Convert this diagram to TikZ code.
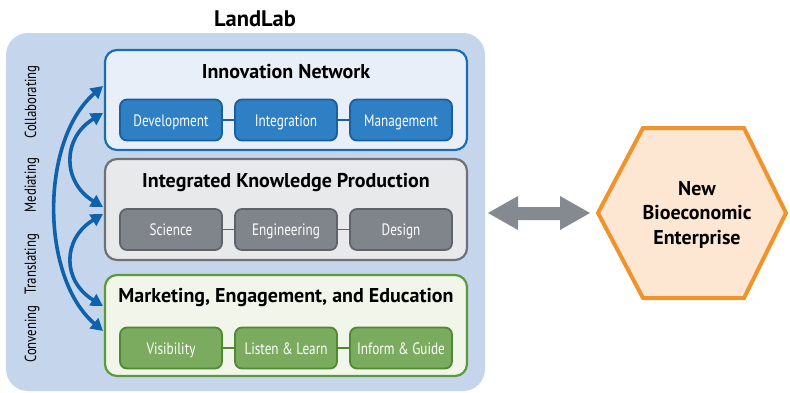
\documentclass[tikz,border=0pt]{standalone}
\usepackage{fontspec}
\setmainfont{PT Sans}
\newfontfamily\condfont[FakeStretch=0.8]{PT Sans}
\usetikzlibrary{arrows.meta}
\definecolor{llbg}{HTML}{C5D6EC}
\definecolor{inborder}{HTML}{1A6CB3}
\definecolor{infill}{HTML}{E9EFF8}
\definecolor{insub}{HTML}{2F7FC4}
\definecolor{insubb}{HTML}{1A5F9E}
\definecolor{ikborder}{HTML}{6D7278}
\definecolor{ikfill}{HTML}{E8E9EB}
\definecolor{iksub}{HTML}{80858B}
\definecolor{iksubb}{HTML}{5F646A}
\definecolor{meborder}{HTML}{5A9A3C}
\definecolor{mefill}{HTML}{F2F5E9}
\definecolor{mesub}{HTML}{7AAB5F}
\definecolor{mesubb}{HTML}{4F8A33}
\definecolor{arrowblue}{HTML}{0E62AD}
\definecolor{grayarrow}{HTML}{858A90}
\definecolor{hexborder}{HTML}{F0932B}
\definecolor{hexfill}{HTML}{FDE7D3}
\begin{document}
\begin{tikzpicture}[x=1pt,y=-1pt,
  bigbox/.style={rounded corners=12pt, line width=2.2pt, minimum width=362pt, minimum height=100pt, inner sep=0pt},
  subbox/.style={rounded corners=7pt, line width=1.8pt, minimum width=102pt, minimum height=41pt, inner sep=0pt, text height=14pt, text depth=2pt, text=white, font=\condfont\fontsize{16.5}{18}\selectfont},
  boxtitle/.style={font=\bfseries\fontsize{20}{24}\selectfont, inner sep=0pt, anchor=base},
  sidelabel/.style={rotate=90, font=\condfont\fontsize{16}{18}\selectfont, inner sep=0pt},
  loop/.style={draw=arrowblue, line width=3.6pt, {Triangle[length=12pt,width=13pt]}-{Triangle[length=12pt,width=13pt]}},
  link/.style={line width=1.8pt}
]
\useasboundingbox (0,0) rectangle (790,392);
\fill[white] (0,0) rectangle (790,392);
% LandLab background
\fill[llbg, rounded corners=22pt] (6,33) rectangle (485,391);
\node[font=\bfseries\fontsize{22.5}{26}\selectfont, inner sep=0pt, anchor=base] (title) at (255,26) {LandLab};

% Innovation Network
\node[bigbox, draw=inborder, fill=infill] (in) at (286,100) {};
\node[boxtitle] (intitle) at (286,78) {Innovation Network};
\node[subbox, draw=insubb, fill=insub] (dev) at (171,120) {Development};
\node[subbox, draw=insubb, fill=insub] (integ) at (286,120) {Integration};
\node[subbox, draw=insubb, fill=insub] (mgmt) at (401,120) {Management};
\draw[link, insubb] (dev) -- (integ);
\draw[link, insubb] (integ) -- (mgmt);

% Integrated Knowledge Production
\node[bigbox, draw=ikborder, fill=ikfill, minimum height=101pt] (ik) at (286,209.5) {};
\node[boxtitle] (iktitle) at (286,187) {Integrated Knowledge Production};
\node[subbox, draw=iksubb, fill=iksub] (sci) at (171,229.5) {Science};
\node[subbox, draw=iksubb, fill=iksub] (eng) at (286,229.5) {Engineering};
\node[subbox, draw=iksubb, fill=iksub] (des) at (401,229.5) {Design};
\draw[link, iksubb] (sci) -- (eng);
\draw[link, iksubb] (eng) -- (des);

% Marketing, Engagement, and Education
\node[bigbox, draw=meborder, fill=mefill, minimum height=101pt] (me) at (286,325.5) {};
\node[boxtitle] (metitle) at (286,302) {Marketing, Engagement, and Education};
\node[subbox, draw=mesubb, fill=mesub] (vis) at (171,348) {Visibility};
\node[subbox, draw=mesubb, fill=mesub] (lis) at (286,348) {Listen \& Learn};
\node[subbox, draw=mesubb, fill=mesub] (inf) at (401,348) {Inform \& Guide};
\draw[link, mesubb] (vis) -- (lis);
\draw[link, mesubb] (lis) -- (inf);

% side labels
\node[sidelabel] (collab) at (32,102) {Collaborating};
\node[sidelabel] (medi) at (32,185) {Mediating};
\node[sidelabel] (trans) at (32,264) {Translating};
\node[sidelabel] (conv) at (32,334) {Convening};

% loop arrows
\coordinate (a1) at (103,86);
\coordinate (a2) at (103,331);
\coordinate (b1) at (103,113);
\coordinate (b2) at (103,207);
\coordinate (c1) at (103,214);
\coordinate (c2) at (103,306);
\draw[loop] (a1) .. controls (40,140) and (40,277) .. (a2);
\draw[loop] (b1) .. controls (62,138) and (62,182) .. (b2);
\draw[loop] (c1) .. controls (62,239) and (62,281) .. (c2);

% gray double arrow
\fill[grayarrow] (488,213) -- (518,196) -- (518,207) -- (560,207) -- (560,196) -- (590,213)
  -- (560,230) -- (560,220) -- (518,220) -- (518,230) -- cycle;

% hexagon
\draw[draw=hexborder, fill=hexfill, line width=4pt, line join=miter]
  (598,213) -- (643,128) -- (744,128) -- (786,213) -- (744,298) -- (643,298) -- cycle;
\node[font=\bfseries\fontsize{20}{24.5}\selectfont, align=center, inner sep=0pt, anchor=base] (nbe) at (697,244) {New\\Bioeconomic\\Enterprise};
\end{tikzpicture}
\end{document}
